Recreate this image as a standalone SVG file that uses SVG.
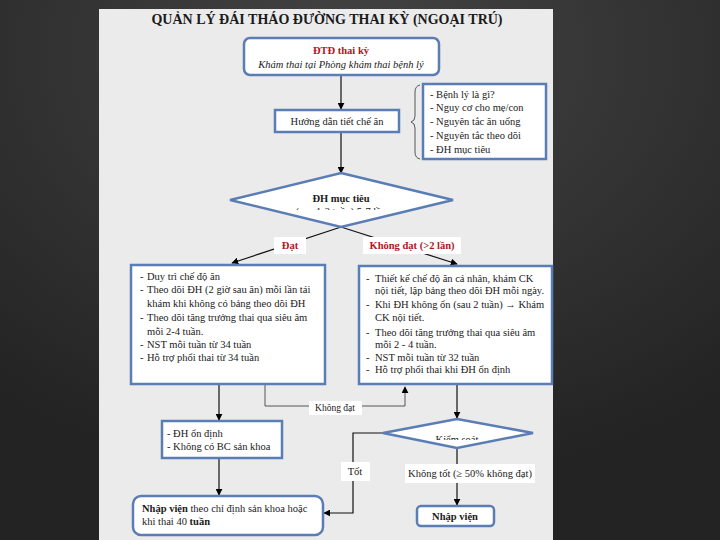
<svg xmlns="http://www.w3.org/2000/svg" width="720" height="540" viewBox="0 0 720 540">
<defs>
<radialGradient id="bg" cx="0.5" cy="0.1" r="0.8">
<stop offset="0" stop-color="#444"/>
<stop offset="1" stop-color="#232323"/>
</radialGradient>
<marker id="ah" viewBox="0 0 10 10" refX="9" refY="5" markerWidth="7" markerHeight="7" orient="auto" markerUnits="userSpaceOnUse">
<path d="M0,0 L10,5 L0,10 z" fill="#000"/>
</marker>
<clipPath id="c1"><rect x="230" y="170" width="230" height="40"/></clipPath>
<clipPath id="c2"><rect x="380" y="415" width="160" height="25"/></clipPath>
<style>
.box{fill:#fff;stroke:#5a7db5;stroke-width:2.5}
.t{font-family:"Liberation Serif","Times New Roman",serif;font-size:10.5px;fill:#1a1a1a}
.b{font-weight:bold}
.red{fill:#b0161c;font-weight:bold}
.ln{stroke:#111;stroke-width:1.2;fill:none}
.thin{stroke:#444;stroke-width:0.9;fill:none}
.lbl{fill:#fff}
</style>
</defs>
<rect width="720" height="540" fill="url(#bg)"/>
<rect x="99" y="9" width="454" height="531" fill="#ebebeb"/>
<text x="327" y="24" text-anchor="middle" class="t b" style="font-size:14px" fill="#111">QUẢN LÝ ĐÁI THÁO ĐƯỜNG THAI KỲ (NGOẠI TRÚ)</text>

<g id="connectors">
<line class="ln" x1="341" y1="76" x2="341" y2="109" marker-end="url(#ah)"/>
<line class="ln" x1="341" y1="133" x2="341" y2="173" marker-end="url(#ah)"/>
<line class="ln" x1="341" y1="227" x2="232" y2="263" marker-end="url(#ah)"/>
<line class="ln" x1="341" y1="227" x2="457" y2="264" marker-end="url(#ah)"/>
<line class="ln" x1="219" y1="385" x2="219" y2="420" marker-end="url(#ah)"/>
<line class="ln" x1="219" y1="459" x2="219" y2="495" marker-end="url(#ah)"/>
<polyline class="thin" points="265,385 265,406 405,406 405,387" marker-end="url(#ah)"/>
<line class="ln" x1="457" y1="385" x2="457" y2="418" marker-end="url(#ah)"/>
<polyline class="ln" points="384,433 353,433 353,513 324,513" marker-end="url(#ah)"/>
<line class="ln" x1="457" y1="448" x2="457" y2="505" marker-end="url(#ah)"/>
<path class="thin" d="M420,85 Q415,86 415,92 L415,116 Q415,121 411,122 Q415,123 415,128 L415,152 Q415,158 420,159"/>
</g>

<g id="n-top">
<rect class="box" x="244" y="38" width="195" height="37" rx="6"/>
<text x="341" y="54" text-anchor="middle" class="t red">ĐTĐ thai kỳ</text>
<text x="341" y="68" text-anchor="middle" class="t" font-style="italic">Khám thai tại Phòng khám thai bệnh lý</text>
</g>

<g id="n-huongdan">
<rect class="box" x="275" y="110" width="124" height="22"/>
<text x="337" y="125" text-anchor="middle" class="t">Hướng dẫn tiết chế ăn</text>
</g>

<g id="n-list">
<rect class="box" x="423" y="84" width="123" height="75"/>
<text class="t"><tspan x="430" y="98">-  Bệnh lý là gì?</tspan><tspan x="430" y="111">-  Nguy cơ cho mẹ/con</tspan><tspan x="430" y="125">-  Nguyên tắc ăn uống</tspan><tspan x="430" y="139">-  Nguyên tắc theo dõi</tspan><tspan x="430" y="153">-  ĐH mục tiêu</tspan></text>
</g>

<g id="n-dhmuctieu">
<polygon class="box" points="341,173 453,200 341,227 230,200"/>
<text x="341" y="202" text-anchor="middle" class="t b">ĐH mục tiêu</text>
<text x="341" y="215" text-anchor="middle" class="t" clip-path="url(#c1)">(sau 1-2 tuần) 5-7 lần</text>
</g>

<g id="l-dat">
<rect class="lbl" x="274" y="237" width="32" height="17"/>
<text x="290" y="249" text-anchor="middle" class="t red">Đạt</text>
</g>
<g id="l-khongdat">
<rect class="lbl" x="363" y="237" width="98" height="17"/>
<text x="412" y="249" text-anchor="middle" class="t red">Không đạt (&gt;2 lần)</text>
</g>

<g id="n-left">
<rect class="box" x="131" y="265" width="194" height="119"/>
<text class="t"><tspan x="140" y="280">-</tspan><tspan x="147" y="280">Duy trì chế độ ăn</tspan><tspan x="140" y="293">-</tspan><tspan x="147" y="293">Theo dõi ĐH (2 giờ sau ăn) mỗi lần tái</tspan><tspan x="147" y="307">khám khi không có bảng theo dõi ĐH</tspan><tspan x="140" y="321">-</tspan><tspan x="147" y="321">Theo dõi tăng trưởng thai qua siêu âm</tspan><tspan x="147" y="335">mỗi 2-4 tuần.</tspan><tspan x="140" y="348">-</tspan><tspan x="147" y="348">NST mỗi tuần từ 34 tuần</tspan><tspan x="140" y="361">-</tspan><tspan x="147" y="361">Hỗ trợ phổi thai từ 34 tuần</tspan></text>
</g>

<g id="n-right">
<rect class="box" x="359" y="266" width="193" height="118"/>
<text class="t"><tspan x="366" y="282">-</tspan><tspan x="375" y="282">Thiết kế chế độ ăn cá nhân, khám CK</tspan><tspan x="375" y="294">nội tiết, lập bảng theo dõi ĐH mỗi ngày.</tspan><tspan x="366" y="308">-</tspan><tspan x="375" y="308">Khi ĐH không ổn (sau 2 tuần) → Khám</tspan><tspan x="375" y="321">CK nội tiết.</tspan><tspan x="366" y="336">-</tspan><tspan x="375" y="336">Theo dõi tăng trưởng thai qua siêu âm</tspan><tspan x="375" y="348">mỗi 2 - 4 tuần.</tspan><tspan x="366" y="361">-</tspan><tspan x="375" y="361">NST mỗi tuần từ 32 tuần</tspan><tspan x="366" y="373">-</tspan><tspan x="375" y="373">Hỗ trợ phổi thai khi ĐH ổn định</tspan></text>
</g>

<g id="l-khongdat2">
<rect class="lbl" x="309" y="401" width="53" height="14"/>
<text x="335" y="411" text-anchor="middle" class="t" style="font-size:9.5px">Không đạt</text>
</g>

<g id="n-ondinh">
<rect class="box" x="162" y="421" width="120" height="37"/>
<text class="t"><tspan x="167" y="437">- ĐH ổn định</tspan><tspan x="167" y="450">- Không có BC sản khoa</tspan></text>
</g>

<g id="n-kiemsoat">
<polygon class="box" points="457,419 533,433 457,448 383,433"/>
<text x="457" y="443" text-anchor="middle" class="t" clip-path="url(#c2)">Kiểm soát</text>
</g>

<g id="l-tot">
<rect class="lbl" x="341" y="462" width="29" height="19"/>
<text x="355" y="475" text-anchor="middle" class="t">Tốt</text>
</g>
<g id="l-khongtot">
<rect class="lbl" x="405" y="464" width="130" height="19"/>
<text x="470" y="477" text-anchor="middle" class="t">Không tốt (≥ 50% không đạt)</text>
</g>

<g id="n-nhapvien-left">
<rect class="box" x="133" y="496" width="190" height="39" rx="8"/>
<text class="t"><tspan x="142" y="512"><tspan class="b">Nhập viện</tspan> theo chỉ định sản khoa hoặc</tspan><tspan x="142" y="525">khi thai 40 <tspan class="b">tuần</tspan></tspan></text>
</g>

<g id="n-nhapvien-right">
<rect class="box" x="417" y="506" width="77" height="20" rx="4"/>
<text x="455" y="520" text-anchor="middle" class="t b">Nhập viện</text>
</g>
</svg>
